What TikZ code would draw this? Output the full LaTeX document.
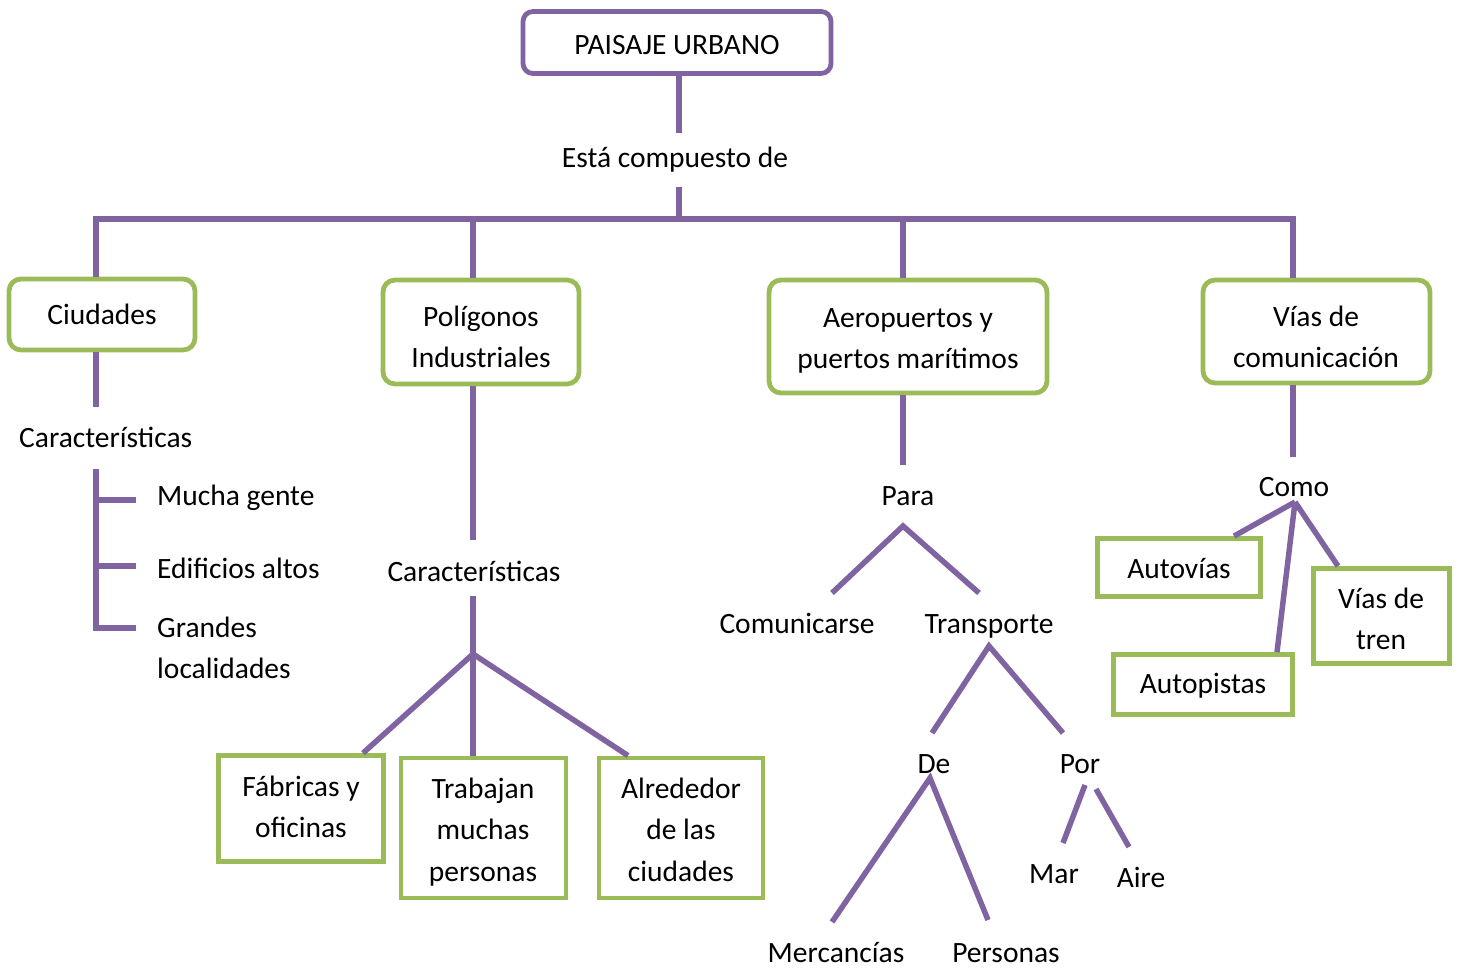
\documentclass[tikz,border=0pt]{standalone}
\usepackage{fontspec}
\setmainfont{Carlito}
\definecolor{lpurple}{HTML}{8064A2}
\definecolor{lgreen}{HTML}{9BBB59}
\newcommand\mlc[1]{\begin{tabular}[t]{@{}c@{}}#1\end{tabular}}
\newcommand\mll[1]{\begin{tabular}[t]{@{}l@{}}#1\end{tabular}}
\begin{document}
\begin{tikzpicture}[x=1pt,y=-1pt,
  txt/.style={font=\fontsize{29.5}{41.5}\selectfont, inner sep=0pt, anchor=base},
  txtl/.style={txt, anchor=base west},
  link/.style={draw=lpurple, line width=5.5pt},
  pbox/.style={draw=lpurple, line width=4.8pt, rounded corners=10pt, inner sep=0pt},
  gbox/.style={draw=lgreen, line width=4.8pt, rounded corners=12pt, inner sep=0pt},
  sbox/.style={draw=lgreen, line width=4.8pt, inner sep=0pt}]
\useasboundingbox (0,0) rectangle (1461,968);

% ---------- boxes ----------
\node[pbox, minimum width=308pt, minimum height=62pt] (top) at (677,42.5) {};
\node[gbox, minimum width=186pt, minimum height=71pt] (ciu) at (102,314.5) {};
\node[gbox, minimum width=196pt, minimum height=104pt] (pol) at (481,332) {};
\node[gbox, minimum width=278pt, minimum height=113pt] (aer) at (908,336.5) {};
\node[gbox, minimum width=227pt, minimum height=103pt] (via) at (1316.5,331.5) {};
\node[sbox, minimum width=165pt, minimum height=106pt] (fab) at (301,808.5) {};
\node[sbox, minimum width=165pt, minimum height=140pt] (trab) at (483.5,828) {};
\node[sbox, minimum width=164pt, minimum height=140pt] (alr) at (681,828) {};
\node[sbox, minimum width=163pt, minimum height=58pt] (autvb) at (1179,567.5) {};
\node[sbox, minimum width=179pt, minimum height=60pt] (autpb) at (1203,684.5) {};
\node[sbox, minimum width=136pt, minimum height=95pt] (vtb) at (1381.5,616) {};

% ---------- texts ----------
\node[txt] (topt) at (677,55) {PAISAJE URBANO};
\node[txt] (esta) at (675,168) {Está compuesto de};
\node[txt] (ciut) at (102,324) {Ciudades};
\node[txtl] (car1) at (19,447) {Características};
\node[txtl] (mg) at (157,505) {Mucha gente};
\node[txtl] (ea) at (157,578) {Edificios altos};
\node[txtl] (gl) at (157,637) {\mll{Grandes\\localidades}};
\node[txt] (polt) at (481,326) {\mlc{Polígonos\\Industriales}};
\node[txt] (car2) at (474,581) {Características};
\node[txt] (fabt) at (301,796) {\mlc{Fábricas y\\oficinas}};
\node[txt] (trat) at (483,798) {\mlc{Trabajan\\muchas\\personas}};
\node[txt] (alrt) at (681,798) {\mlc{Alrededor\\de las\\ciudades}};
\node[txt] (aert) at (908,327) {\mlc{Aeropuertos y\\puertos marítimos}};
\node[txt] (viat) at (1316,326) {\mlc{Vías de\\comunicación}};
\node[txt] (para) at (908,505) {Para};
\node[txt] (com) at (797,633) {Comunicarse};
\node[txt] (tra) at (989,633) {Transporte};
\node[txt] (de) at (934,773) {De};
\node[txt] (por) at (1080,773) {Por};
\node[txt] (mar) at (1054,883) {Mar};
\node[txt] (aire) at (1141,887) {Aire};
\node[txt] (merc) at (836,962) {Mercancías};
\node[txt] (pers) at (1006,962) {Personas};
\node[txt] (como) at (1294,496) {Como};
\node[txt] (autv) at (1179,578) {Autovías};
\node[txt] (autp) at (1203,693) {Autopistas};
\node[txt] (vtt) at (1381,608) {\mlc{Vías de\\tren}};

% ---------- coordinates ----------
\coordinate (c1) at (679,133);
\coordinate (c2) at (679,187);
\coordinate (barL) at (96,219);
\coordinate (barR) at (1293,219);
\coordinate (b2) at (473,219);
\coordinate (b3) at (903,219);
\coordinate (c3) at (96,407);
\coordinate (k1) at (96,469);
\coordinate (k2) at (96,628);
\coordinate (h1) at (136,500);
\coordinate (h2) at (136,566);
\coordinate (h3) at (136,628);
\coordinate (c4) at (473,540);
\coordinate (c5) at (473,596);
\coordinate (ap1) at (473,654);
\coordinate (e1) at (363,754);
\coordinate (e2) at (628,756);
\coordinate (c6) at (903,465);
\coordinate (ap2) at (903,526);
\coordinate (p1) at (832,593);
\coordinate (p2) at (979,593);
\coordinate (ap3) at (989,646);
\coordinate (t1) at (932,733);
\coordinate (t2) at (1063,733);
\coordinate (ap4) at (930,778);
\coordinate (d1) at (832,922);
\coordinate (d2) at (988,920);
\coordinate (r1) at (1085,785);
\coordinate (r2) at (1063,843);
\coordinate (r3) at (1096,789);
\coordinate (r4) at (1129,847);
\coordinate (c7) at (1293,457);
\coordinate (ap5) at (1295,502);
\coordinate (v1) at (1234,536);
\coordinate (v2) at (1277,654);
\coordinate (v3) at (1338,568);

% ---------- connectors ----------
\draw[link] (c1 |- top.south) -- (c1);
\draw[link] (c2) -- (c2 |- barL);
\draw[link] (barL |- ciu.north) -- (barL) -- (barR) -- (barR |- via.north);
\draw[link] (b2) -- (b2 |- pol.north);
\draw[link] (b3) -- (b3 |- aer.north);
% Ciudades
\draw[link] (barL |- ciu.south) -- (c3);
\draw[link] (k1) -- (k2) -- (h3);
\draw[link] (k1 |- h1) -- (h1);
\draw[link] (k1 |- h2) -- (h2);
% Poligonos
\draw[link] (b2 |- pol.south) -- (c4);
\draw[link] (c5) -- (ap1);
\draw[link] (ap1) -- (e1 |- fab.north);
\draw[link] (ap1) -- (ap1 |- trab.north);
\draw[link] (ap1) -- (e2 |- alr.north);
% Aeropuertos
\draw[link] (b3 |- aer.south) -- (c6);
\draw[link] (p1) -- (ap2) -- (p2);
\draw[link] (t1) -- (ap3) -- (t2);
\draw[link] (d1) -- (ap4) -- (d2);
\draw[link] (r1) -- (r2);
\draw[link] (r3) -- (r4);
% Vias
\draw[link] (barR |- via.south) -- (c7);
\draw[link] (ap5) -- (v1 |- autvb.north);
\draw[link] (ap5) -- (v2 |- autpb.north);
\draw[link] (ap5) -- (v3 |- vtb.north);
\end{tikzpicture}
\end{document}
